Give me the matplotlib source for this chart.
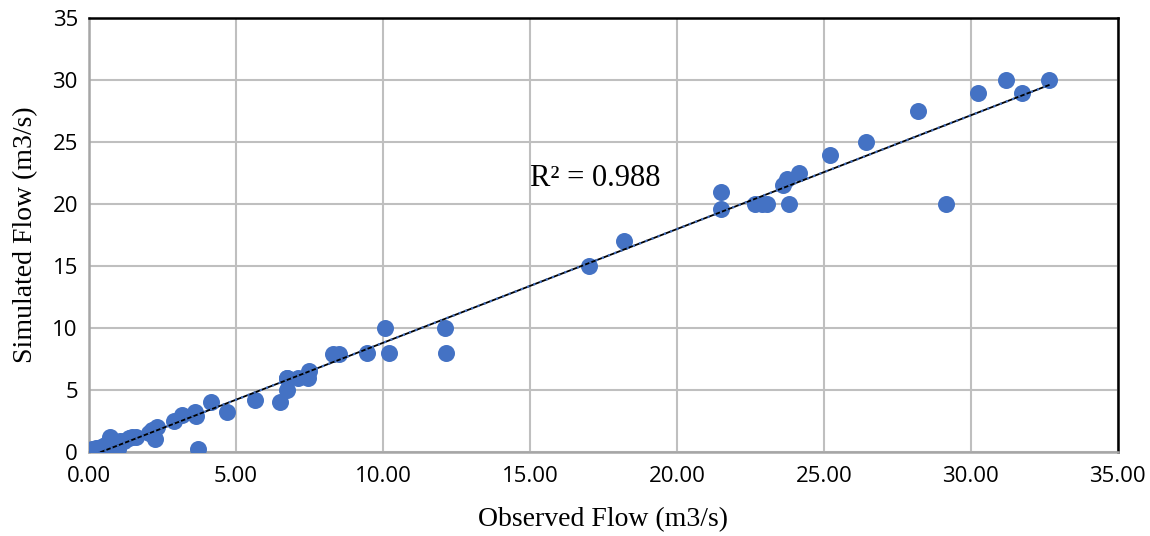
import numpy as np
import matplotlib
matplotlib.use("Agg")
import matplotlib.pyplot as plt

# Observed vs simulated flow (m3/s)
observed = [0.10, 0.20, 0.25, 0.35, 0.40, 0.50, 0.55, 0.60, 0.70, 0.75, 0.85,
            1.00, 1.05, 1.20, 1.35, 1.45, 1.60, 2.05, 2.15, 2.25, 2.30, 2.90,
            3.15, 3.60, 3.65, 3.70, 4.15, 4.70, 5.65, 6.50, 6.75, 6.75, 6.72,
            7.10, 7.45, 7.50, 8.30, 8.50, 9.45, 10.07, 10.20, 12.10, 12.15,
            17.00, 18.20, 21.50, 21.50, 22.65, 22.90, 23.05, 23.60, 23.75,
            23.80, 24.15, 25.20, 26.45, 28.20, 29.15, 30.25, 31.20, 31.75, 32.65]
simulated = [0.20, 0.10, 0.30, 0.20, 0.40, 0.30, 0.55, 0.50, 1.20, 0.70, 0.80,
             0.25, 0.90, 0.90, 1.10, 1.20, 1.20, 1.50, 1.80, 1.00, 2.00, 2.50,
             3.00, 3.20, 2.90, 0.25, 4.00, 3.20, 4.20, 4.00, 6.00, 5.00, 6.00,
             6.00, 6.00, 6.50, 7.90, 7.90, 8.00, 10.00, 8.00, 10.00, 8.00,
             15.00, 17.00, 21.00, 19.60, 20.00, 20.00, 20.00, 21.50, 22.00,
             20.00, 22.50, 24.00, 25.00, 27.50, 20.00, 29.00, 30.00, 29.00, 30.00]
r2_label = 0.988

x_ticks = [0, 5, 10, 15, 20, 25, 30, 35]
y_ticks = [0, 5, 10, 15, 20, 25, 30, 35]

x = np.array(observed)
y = np.array(simulated)

# linear trendline like Excel
coef = np.polyfit(x, y, 1)
xs = np.array([x.min(), x.max()])
ys = np.polyval(coef, xs)

fig = plt.figure(figsize=(11.5, 5.36), dpi=100)
ax = fig.add_axes([0.0774, 0.157, 0.8946, 0.809])

ax.scatter(x, y, s=150, color="#4472C4", zorder=3, linewidths=0)
ax.plot(xs, ys, color="black", lw=1.3, zorder=4)
ax.plot(xs, ys, color="#4472C4", lw=1.6, ls=(0, (1, 2)), zorder=5)

ax.set_xlim(0, 35)
ax.set_ylim(0, 35)
ax.set_xticks(x_ticks)
ax.set_yticks(y_ticks)
ax.set_xticklabels([f"{v:.2f}" for v in x_ticks])
ax.set_yticklabels([str(v) for v in y_ticks])
ax.grid(True, color="#BFBFBF", lw=1.5, zorder=0)
ax.set_axisbelow(True)
ax.tick_params(length=0, labelsize=16)
ax.tick_params(axis="x", pad=10)
ax.tick_params(axis="y", pad=8)
for lab in ax.get_xticklabels() + ax.get_yticklabels():
    lab.set_family("Open Sans")

for side in ["top", "right"]:
    ax.spines[side].set_color("black")
    ax.spines[side].set_linewidth(1.8)
for side in ["left", "bottom"]:
    ax.spines[side].set_color("#A6A6A6")
    ax.spines[side].set_linewidth(1.8)

ax.text(15, 22.1, f"R\u00b2 = {r2_label:.3f}", fontsize=22, family="Liberation Serif",
        va="center", ha="left", zorder=6)

ax.set_xlabel("Observed Flow (m3/s)", fontsize=20, family="Liberation Serif", labelpad=15)
ax.set_ylabel("Simulated Flow (m3/s)", fontsize=20, family="Liberation Serif", labelpad=10)

fig.savefig("out.png", dpi=100)
